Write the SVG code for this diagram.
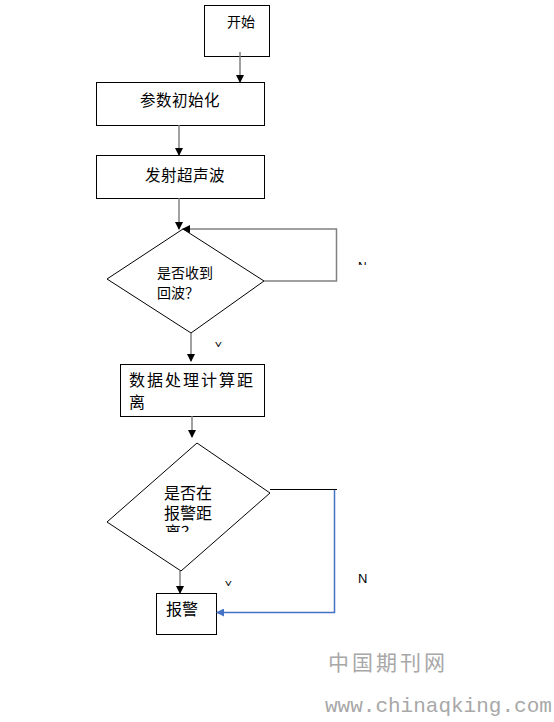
<svg xmlns="http://www.w3.org/2000/svg" width="554" height="722" viewBox="0 0 554 722">
<style>
.box{fill:#fff;stroke:#000;stroke-width:1}
.t{font-family:"Liberation Sans","Noto Sans CJK SC",sans-serif;fill:#000}
.c{fill:none;stroke:#808080;stroke-width:1.5}
.k{fill:none;stroke:#000;stroke-width:1}
.b{fill:none;stroke:#4472C4;stroke-width:1.5}
.wm{font-family:"Noto Sans CJK SC",sans-serif;fill:#a8a8a8}
</style>
<defs>
<marker id="ah" markerWidth="8" markerHeight="8" refX="7" refY="4" orient="auto" markerUnits="userSpaceOnUse">
<path d="M0,0 L8,4 L0,8 Z" fill="#000"/>
</marker>
<marker id="ahb" markerWidth="8" markerHeight="8" refX="7" refY="4" orient="auto" markerUnits="userSpaceOnUse">
<path d="M0,0 L8,4 L0,8 Z" fill="#4472C4"/>
</marker>
<clipPath id="cN1"><rect x="350" y="255" width="30" height="10"/></clipPath>
<clipPath id="cY1"><rect x="210" y="338" width="20" height="9"/></clipPath>
<clipPath id="cY2"><rect x="220" y="577" width="20" height="9"/></clipPath>
<clipPath id="cL"><rect x="150" y="520" width="60" height="12"/></clipPath>
</defs>

<g id="start">
<rect class="box" x="204.5" y="5.5" width="65" height="51"/>
<text class="t" x="227" y="27" font-size="14">开始</text>
</g>
<g id="init">
<rect class="box" x="96.5" y="82.5" width="168" height="43"/>
<text class="t" x="140" y="106" font-size="15.5" letter-spacing="0.5">参数初始化</text>
</g>
<g id="emit">
<rect class="box" x="96.5" y="155.5" width="168" height="43"/>
<text class="t" x="145" y="181" font-size="15.5" letter-spacing="0.5">发射超声波</text>
</g>
<g id="check1">
<polygon class="box" points="183,229 264,281 191,333 107,279"/>
<text class="t" x="157" y="278" font-size="14">是否收到</text>
<text class="t" x="157" y="298" font-size="14">回波？</text>
</g>
<g id="process">
<rect class="box" x="120.5" y="364.5" width="144" height="52"/>
<text class="t" x="129" y="386" font-size="16" letter-spacing="2">数据处理计算距</text>
<text class="t" x="129" y="408" font-size="16">离</text>
</g>
<g id="check2">
<polygon class="box" points="197,443 270,493 181,571 107,522"/>
<text class="t" x="164" y="499" font-size="16">是否在</text>
<text class="t" x="164" y="519" font-size="16">报警距</text>
<text class="t" x="165" y="538" font-size="16" clip-path="url(#cL)">离？</text>
</g>
<g id="alarm">
<rect class="box" x="156.5" y="593.5" width="60" height="41"/>
<text class="t" x="166" y="615" font-size="16">报警</text>
</g>

<g id="connectors">
<line class="c" x1="240" y1="52" x2="240" y2="82" marker-end="url(#ah)"/>
<line class="c" x1="179" y1="125" x2="179" y2="155" marker-end="url(#ah)"/>
<line class="c" x1="179" y1="198" x2="179" y2="229" marker-end="url(#ah)"/>
<polyline class="c" points="264,281 336.5,281 336.5,229 183,229" marker-end="url(#ah)"/>
<line class="c" x1="191" y1="333" x2="191" y2="361" marker-end="url(#ah)"/>
<line class="c" x1="192" y1="416" x2="192" y2="437" marker-end="url(#ah)"/>
<line class="k" x1="270" y1="489.5" x2="337" y2="489.5"/>
<polyline class="b" points="334.5,490 334.5,612.5 217,612.5" marker-end="url(#ahb)"/>
<line class="c" x1="180" y1="571" x2="180" y2="593" marker-end="url(#ah)"/>
</g>

<g id="labels">
<text class="t" x="358" y="271" font-size="12" clip-path="url(#cN1)">N</text>
<text class="t" x="215" y="350" font-size="10" fill="#444" clip-path="url(#cY1)">Y</text>
<text class="t" x="225" y="589" font-size="10" fill="#444" clip-path="url(#cY2)">Y</text>
<text class="t" x="358" y="583" font-size="13">N</text>
</g>

<g id="watermark">
<text class="wm" x="328" y="670" font-size="21" letter-spacing="3">中国期刊网</text>
<text x="325" y="712" font-family="Liberation Mono,monospace" font-size="21" fill="#a8a8a8">www.chinaqking.com</text>
</g>
</svg>
